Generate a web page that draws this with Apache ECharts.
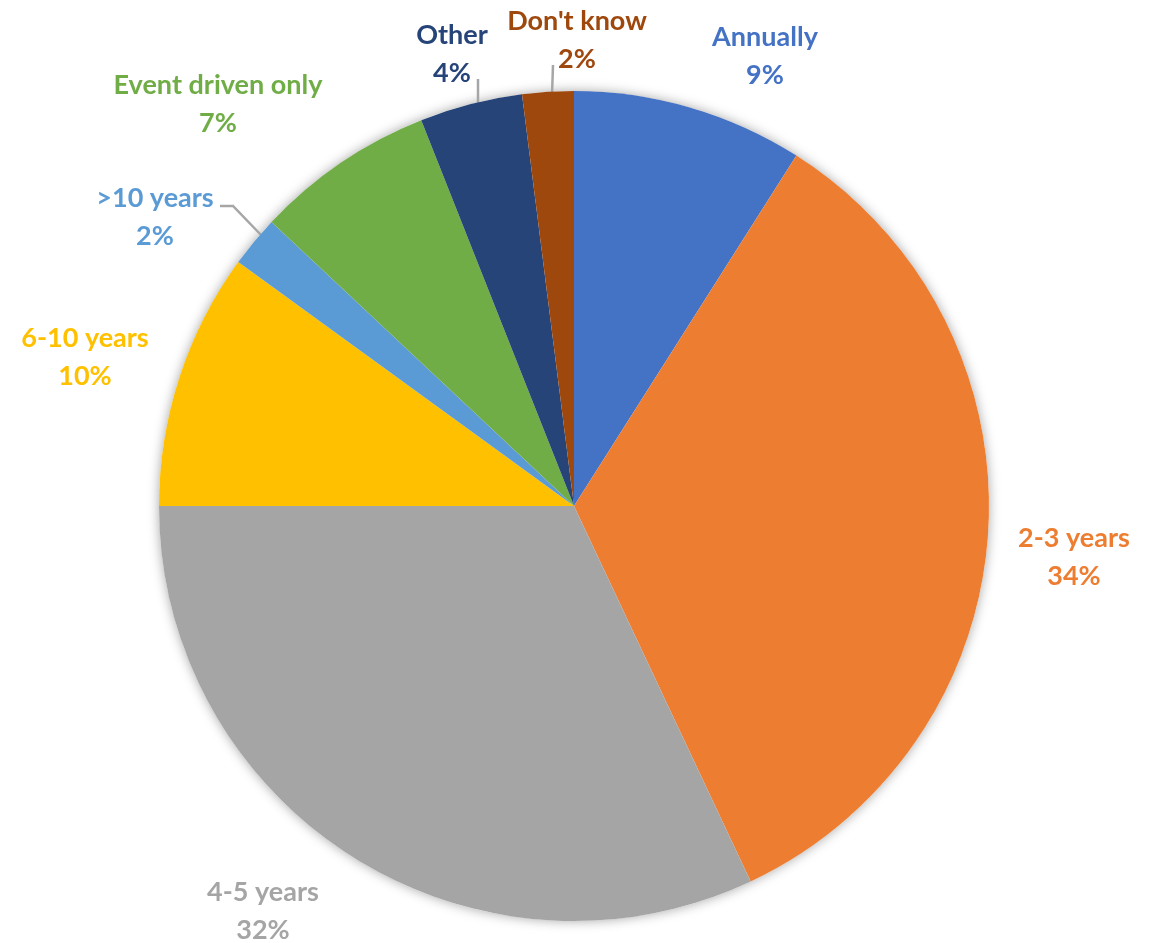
<!DOCTYPE html>
<html>
<head>
<meta charset="utf-8">
<script src="https://cdn.jsdelivr.net/npm/echarts@6/dist/echarts.min.js"></script>
<style>
  html, body { margin: 0; padding: 0; background: #ffffff; }
  #chart { width: 1158px; height: 943px; }
</style>
</head>
<body>
<div id="chart"></div>
<script>
// Review frequency shares (percent), clockwise from 12 o'clock
const categories = ['Annually', '2-3 years', '4-5 years', '6-10 years', '>10 years', 'Event driven only', 'Other', "Don't know"];
const shares = [9, 34, 32, 10, 2, 7, 4, 2];
const colors = ['#4472C4', '#ED7D31', '#A5A5A5', '#FFC000', '#5B9BD5', '#70AD47', '#264478', '#9E480E'];

// Pie geometry
const CENTER = [574, 506];
const RADIUS = 415;

// Label block centres, relative to the pie centre
const labelOffsets = [
  [191, -450], [500, 51], [-311, 405], [-489, -149],
  [-419, -289], [-356, -402], [-122, -452], [3, -466]
];
// Leader lines for the small slices, relative to the pie centre
const leaderLines = {
  4: [[-312, -270], [-341, -300], [-354, -300]],
  6: [[-96, -401], [-96, -427]],
  7: [[-22, -411], [-21, -441]]
};

const chart = echarts.init(document.getElementById('chart'), null, { renderer: 'canvas' });

const pieData = categories.map((name, i) => ({
  name: name,
  value: shares[i],
  itemStyle: { color: colors[i] },
  label: { color: colors[i] },
  labelLine: { show: leaderLines[i] !== undefined }
}));

const option = {
  backgroundColor: '#ffffff',
  animation: false,
  series: [
    {
      // soft shadow disc under the pie
      type: 'pie',
      z: 1,
      silent: true,
      center: CENTER,
      radius: [0, RADIUS],
      label: { show: false },
      labelLine: { show: false },
      itemStyle: {
        color: '#ffffff',
        shadowBlur: 12,
        shadowColor: 'rgba(0, 0, 0, 0.35)'
      },
      data: [{ value: 1, name: '' }]
    },
    {
      type: 'pie',
      z: 2,
      center: CENTER,
      radius: [0, RADIUS],
      startAngle: 90,
      clockwise: true,
      avoidLabelOverlap: false,
      itemStyle: { borderWidth: 0 },
      label: {
        show: true,
        position: 'outside',
        formatter: '{b}\n{c}%',
        fontFamily: 'Lato',
        fontWeight: 'bold',
        fontSize: 27,
        lineHeight: 38,
        align: 'center'
      },
      labelLine: {
        lineStyle: { color: '#A6A6A6', width: 2.5 }
      },
      labelLayout: function (params) {
        const i = params.dataIndex;
        const off = labelOffsets[i];
        const out = {
          x: CENTER[0] + off[0],
          y: CENTER[1] + off[1],
          align: 'center',
          verticalAlign: 'middle'
        };
        if (leaderLines[i]) {
          out.labelLinePoints = leaderLines[i].map(p => [CENTER[0] + p[0], CENTER[1] + p[1]]);
        }
        return out;
      },
      data: pieData
    }
  ]
};

chart.setOption(option);
</script>
</body>
</html>
